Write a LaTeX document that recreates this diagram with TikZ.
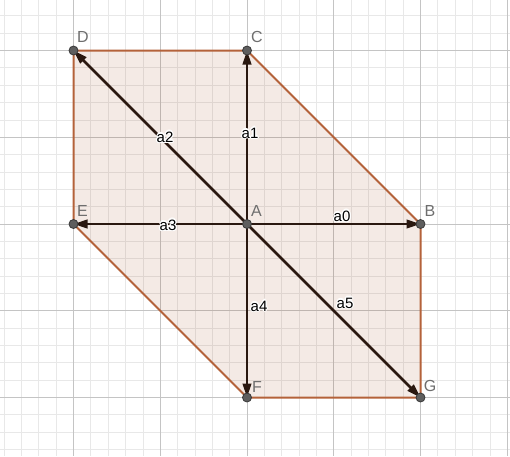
\documentclass[tikz,border=0pt]{standalone}
\usepackage{fontspec}
\setmainfont{Liberation Sans}
\usetikzlibrary{arrows.meta}
\definecolor{edgec}{HTML}{B4623A}
\definecolor{fillc}{RGB}{153,51,0}
\definecolor{vecc}{HTML}{2A1810}
\definecolor{ptc}{HTML}{5E5E5E}
\definecolor{ptline}{HTML}{383838}
\definecolor{lblc}{HTML}{6E6E6E}
\definecolor{majorc}{HTML}{C4C4C4}
\definecolor{minorc}{HTML}{E8E8E8}
\newcommand\halo[1]{%
 \leavevmode
 \rlap{\kern-1.3pt\textcolor{white}{#1}}%
 \rlap{\kern1.3pt\textcolor{white}{#1}}%
 \rlap{\raisebox{1.3pt}{\textcolor{white}{#1}}}%
 \rlap{\raisebox{-1.3pt}{\textcolor{white}{#1}}}%
 \rlap{\kern-0.9pt\raisebox{0.9pt}{\textcolor{white}{#1}}}%
 \rlap{\kern0.9pt\raisebox{0.9pt}{\textcolor{white}{#1}}}%
 \rlap{\kern-0.9pt\raisebox{-0.9pt}{\textcolor{white}{#1}}}%
 \rlap{\kern0.9pt\raisebox{-0.9pt}{\textcolor{white}{#1}}}%
 #1}
\tikzset{
 minorline/.style={draw=minorc, line width=0.8pt},
 majorline/.style={draw=majorc, line width=1pt},
 polyfill/.style={fill=fillc, fill opacity=0.1},
 polyedge/.style={draw=edgec, line width=2pt, line join=round},
 vec/.style={draw=vecc, line width=2.5pt, -{Triangle[length=14pt,width=8.5pt]}, shorten >=0pt},
 pt/.style={circle, fill=ptc, draw=ptline, line width=0.8pt, inner sep=0pt, minimum size=9pt},
 lbl/.style={text=lblc, font=\fontsize{16}{16}\selectfont, inner sep=0pt, anchor=center},
 veclbl/.style={text=black, font=\fontsize{15}{15}\selectfont, inner sep=0pt, anchor=center}
}
\begin{document}
\begin{tikzpicture}[x=1pt,y=-1pt]
\useasboundingbox (0,0) rectangle (510,456);
\fill[white] (0,0) rectangle (510,456);
\begin{scope}
\clip (0,0) rectangle (510,456);
\foreach \i in {-15,...,15} \draw[minorline] ({247+\i*17.35},0) -- ({247+\i*17.35},456);
\foreach \j in {-13,...,14} \draw[minorline] (0,{224+\j*17.35}) -- (510,{224+\j*17.35});
\foreach \i in {-3,...,3} \draw[majorline] ({247+\i*86.75},0) -- ({247+\i*86.75},456);
\foreach \j in {-3,...,3} \draw[majorline] (0,{224+\j*86.75}) -- (510,{224+\j*86.75});
\end{scope}
% points
\coordinate (pA) at (247,224);
\coordinate (pB) at (420.5,224);
\coordinate (pC) at (247,50.5);
\coordinate (pD) at (73.5,50.5);
\coordinate (pE) at (73.5,224);
\coordinate (pF) at (247,397.5);
\coordinate (pG) at (420.5,397.5);
% polygon
\path[polyfill] (pD) -- (pC) -- (pB) -- (pG) -- (pF) -- (pE) -- cycle;
\draw[polyedge] (pD) -- (pC) -- (pB) -- (pG) -- (pF) -- (pE) -- cycle;
% vectors
\draw[vec] (pA) -- (pB);
\draw[vec] (pA) -- (pC);
\draw[vec] (pA) -- (pD);
\draw[vec] (pA) -- (pE);
\draw[vec] (pA) -- (pF);
\draw[vec] (pA) -- (pG);
% vector labels
\node[veclbl] (a0) at (342,216) {\halo{a0}};
\node[veclbl] (a1) at (250,133) {\halo{a1}};
\node[veclbl] (a2) at (165,137) {\halo{a2}};
\node[veclbl] (a3) at (168,225) {\halo{a3}};
\node[veclbl] (a4) at (259,306) {\halo{a4}};
\node[veclbl] (a5) at (345,303) {\halo{a5}};
% dots
\foreach \p in {A,B,C,D,E,F,G} \node[pt] (\p) at (p\p) {};
% point labels
\path (A) ++(9.5,-13) node[lbl] (lA) {A};
\path (B) ++(9.5,-13) node[lbl] (lB) {B};
\path (C) ++(10,-13.5) node[lbl] (lC) {C};
\path (D) ++(9.5,-13.5) node[lbl] (lD) {D};
\path (E) ++(9,-13) node[lbl] (lE) {E};
\path (F) ++(10,-11) node[lbl] (lF) {F};
\path (G) ++(9.5,-12) node[lbl] (lG) {G};
\end{tikzpicture}
\end{document}
